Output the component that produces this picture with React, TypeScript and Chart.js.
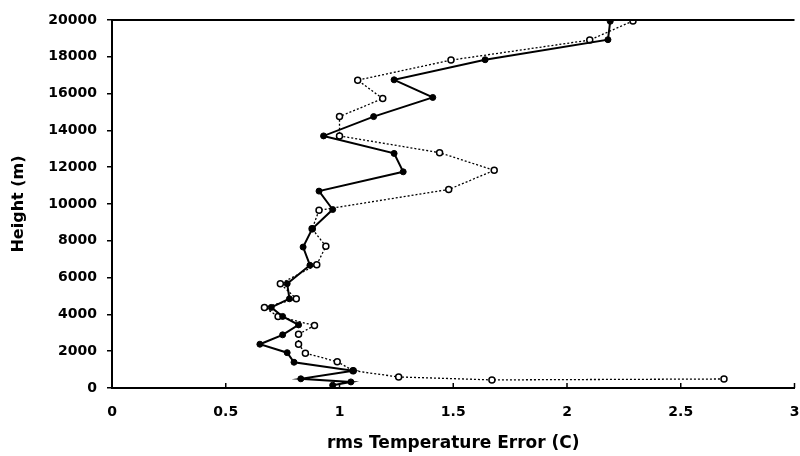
import React, { useEffect, useRef } from "react";
import { Chart, registerables } from "chart.js";

Chart.register(...registerables);

// Series A (filled markers, solid line): rms error (C) and height (m)
const solidError = [2.19, 2.18, 1.64, 1.24, 1.41, 1.15, 0.93, 1.24, 1.28, 0.91, 0.97, 0.88, 0.84, 0.87, 0.77, 0.78, 0.70, 0.75, 0.82, 0.75, 0.65, 0.77, 0.80, 1.06, 0.83, 1.05, 0.97];
const solidHeight = [19930, 18930, 17840, 16750, 15790, 14750, 13700, 12750, 11750, 10700, 9700, 8650, 7660, 6670, 5670, 4850, 4380, 3890, 3430, 2890, 2380, 1920, 1400, 940, 500, 330, 150];

// Series B (open markers, dotted line)
const openError = [2.29, 2.10, 1.49, 1.08, 1.19, 1.00, 1.00, 1.44, 1.68, 1.48, 0.91, 0.88, 0.94, 0.90, 0.74, 0.81, 0.67, 0.73, 0.89, 0.82, 0.82, 0.85, 0.99, 1.06, 1.26, 1.67, 2.69];
const openHeight = [19950, 18910, 17820, 16730, 15730, 14750, 13700, 12790, 11830, 10790, 9660, 8650, 7700, 6700, 5670, 4850, 4380, 3890, 3400, 2920, 2380, 1890, 1430, 940, 600, 440, 490];

const xTickValues = [0, 0.5, 1, 1.5, 2, 2.5, 3];
const xTickLabels = ["0", "0.5", "1", "1.5", "2", "2.5", "3"];
const yTickValues = [0, 2000, 4000, 6000, 8000, 10000, 12000, 14000, 16000, 18000, 20000];
const xTitle = "rms Temperature Error (C)";
const yTitle = "Height (m)";

const FONT = "'DejaVu Sans', sans-serif";

export default function App() {
  const ref = useRef<HTMLCanvasElement | null>(null);

  useEffect(() => {
    document.body.style.margin = "0";
    const canvas = ref.current;
    if (!canvas) return;

    const frame = {
      id: "frame",
      afterDraw(chart: any) {
        const { ctx, chartArea } = chart;
        const xs = chart.scales.x;
        ctx.save();
        ctx.strokeStyle = "#000";
        ctx.lineWidth = 2;
        ctx.beginPath();
        ctx.moveTo(chartArea.left, chartArea.top);
        ctx.lineTo(chartArea.right, chartArea.top);
        ctx.stroke();
        ctx.lineWidth = 1.5;
        xTickValues.forEach((v) => {
          const px = xs.getPixelForValue(v);
          ctx.beginPath();
          ctx.moveTo(px, chartArea.bottom);
          ctx.lineTo(px, chartArea.bottom - 5);
          ctx.stroke();
        });
        ctx.restore();
      },
    };

    const chart = new Chart(canvas, {
      type: "scatter",
      data: {
        datasets: [
          {
            label: "filled",
            data: solidError.map((x, i) => ({ x, y: solidHeight[i] })),
            showLine: true,
            borderColor: "#000",
            borderWidth: 2,
            backgroundColor: "#000",
            pointBackgroundColor: "#000",
            pointBorderColor: "#000",
            pointRadius: 3,
            pointBorderWidth: 1,
          },
          {
            label: "open",
            data: openError.map((x, i) => ({ x, y: openHeight[i] })),
            showLine: true,
            borderColor: "#000",
            borderWidth: 1.3,
            borderDash: [2, 2],
            backgroundColor: "#fff",
            pointBackgroundColor: "#fff",
            pointBorderColor: "#000",
            pointRadius: 3,
            pointBorderWidth: 1.5,
          },
        ],
      },
      options: {
        responsive: false,
        animation: false,
        layout: { padding: { top: 20, right: 4, left: 0, bottom: 0 } },
        plugins: {
          legend: { display: false },
          tooltip: { enabled: false },
        },
        scales: {
          x: {
            type: "linear",
            min: 0,
            max: 3,
            afterBuildTicks: (scale: any) => {
              scale.ticks = xTickValues.map((v) => ({ value: v }));
            },
            afterFit: (scale: any) => {
              scale.height = 68;
            },
            ticks: {
              color: "#000",
              font: { family: FONT, size: 14, weight: "bold" },
              padding: 0,
              maxRotation: 0,
              callback: (v: any) => {
                const i = xTickValues.indexOf(Number(v));
                return i >= 0 ? xTickLabels[i] : "";
              },
            },
            grid: {
              display: true,
              drawOnChartArea: false,
              drawTicks: true,
              tickLength: 16,
              tickColor: "rgba(0,0,0,0)",
              color: "#000",
            },
            border: { display: true, color: "#000", width: 2 },
            title: {
              display: true,
              text: xTitle,
              color: "#000",
              font: { family: FONT, size: 17, weight: "bold" },
              padding: { top: 0, bottom: 2 },
            },
          },
          y: {
            type: "linear",
            min: 0,
            max: 20000,
            afterBuildTicks: (scale: any) => {
              scale.ticks = yTickValues.map((v) => ({ value: v }));
            },
            afterFit: (scale: any) => {
              scale.width = 112;
            },
            ticks: {
              color: "#000",
              font: { family: FONT, size: 14, weight: "bold" },
              padding: 10,
              callback: (v: any) => String(v),
            },
            grid: { display: true, drawOnChartArea: false, drawTicks: true, tickLength: 5, color: "#000", lineWidth: 1.5 },
            border: { display: true, color: "#000", width: 2 },
            title: {
              display: true,
              text: yTitle,
              color: "#000",
              font: { family: FONT, size: 16, weight: "bold" },
              padding: { top: 9, bottom: 0 },
            },
          },
        },
      },
      plugins: [frame],
    });

    return () => chart.destroy();
  }, []);

  return <canvas ref={ref} width={800} height={456} style={{ display: "block" }} />;
}
